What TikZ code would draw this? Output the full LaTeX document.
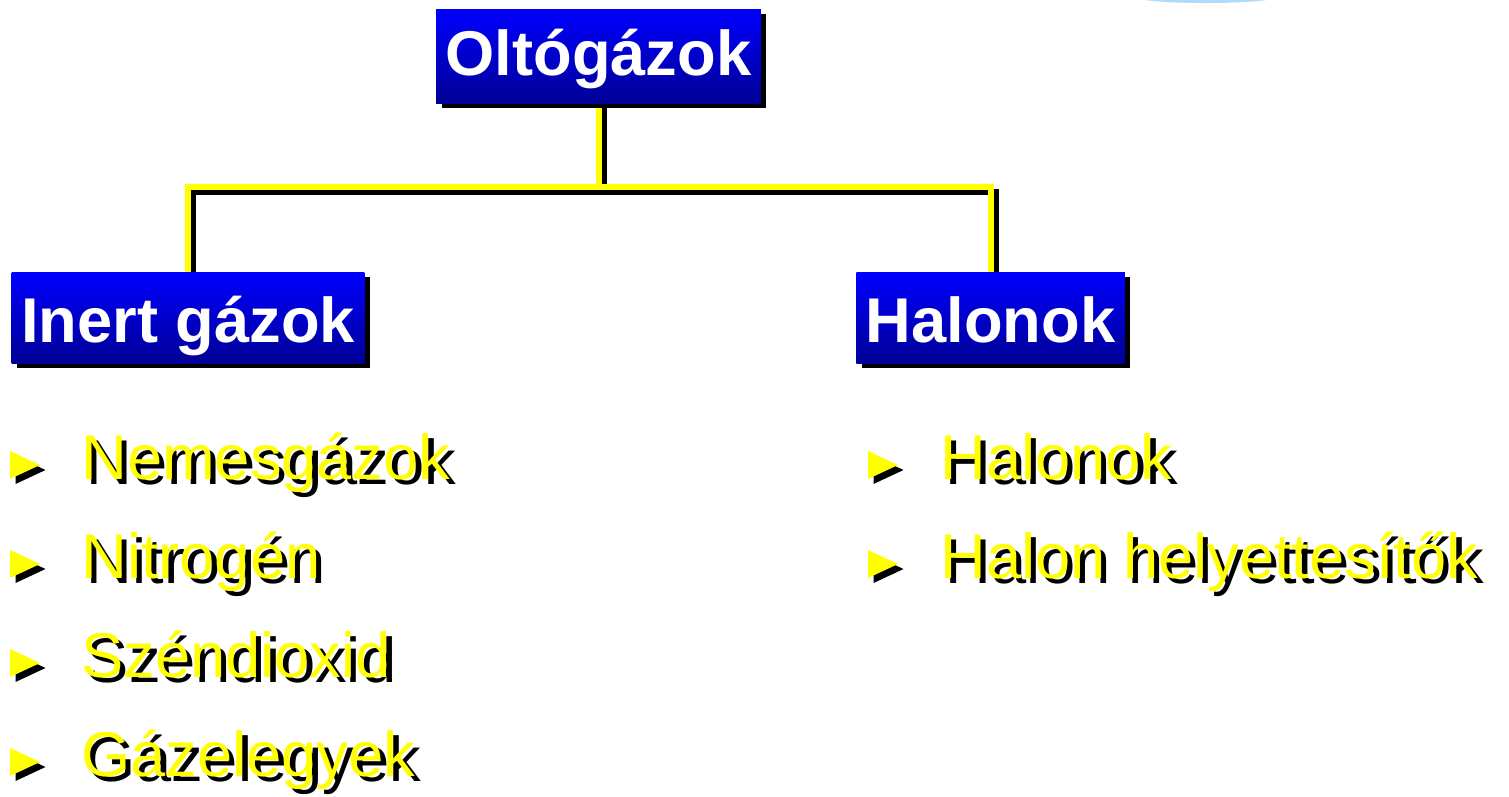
\documentclass[tikz,border=0pt]{standalone}
\usepackage{fontspec}
\setmainfont{Liberation Sans}
\usetikzlibrary{shadows,backgrounds}

\definecolor{boxtop}{RGB}{0,0,255}
\definecolor{boxbottom}{RGB}{0,0,150}
\definecolor{linkyellow}{RGB}{255,255,0}
\definecolor{glowblue}{RGB}{175,218,250}

\begin{document}
\begin{tikzpicture}[x=0.02cm, y=-0.02cm,
    catbox/.style={rectangle, top color=boxtop, bottom color=boxbottom,
      text=white, font=\fontsize{36}{42}\selectfont\bfseries,
      inner xsep=0.19cm, inner ysep=0.2cm, text height=1.2cm, text depth=0.22cm,
      drop shadow={shadow xshift=0.11cm, shadow yshift=-0.1cm, fill=black, opacity=1}},
    link/.style={line width=0.12cm, linkyellow},
    linkshadow/.style={line width=0.12cm, black, transform canvas={xshift=0.11cm, yshift=-0.1cm}},
    itemtext/.style={anchor=base west, inner sep=0pt, text=linkyellow,
      font=\fontsize{36}{42}\selectfont}]

                    \useasboundingbox (0,0) rectangle (1509,796);
                    \fill[glowblue] (1206,-3) ellipse [x radius=70, y radius=6];

                    % the three headings
                    \node[catbox, text height=1.12cm, text depth=0.36cm] (top) at (598.5,56) {Oltógázok};
                    \node[catbox] (inert) at (188,317.5) {Inert gázok};
                    \node[catbox] (halon) at (990.5,317.5) {Halonok};

                    % yellow tree lines with their shadow
                    \coordinate (fork) at (598.5,187);
                    \begin{scope}[on background layer]
                      \draw[linkshadow] (top.south) -- (fork) (inert.north) |- (fork) -| (halon.north);
                      \draw[link] (top.south) -- (fork) (inert.north) |- (fork) -| (halon.north);
                    \end{scope}

                    % left list
                    \foreach \nm/\yb/\txt in {nemes/479/Nemesgázok, nitro/578/Nitrogén,
                        szen/677/Széndioxid, gazel/776/Gázelegyek} {
                      \fill[black] (15.5,\yb+5) -- ++(0,-28) -- ++(30,14) -- cycle;
                      \fill[linkyellow] (10,\yb) -- ++(0,-28) -- ++(30,14) -- cycle;
                      \node[itemtext, text=black] (\nm-sh) at (86.5,\yb+5) {\txt};
                      \node[itemtext] (\nm) at (81,\yb) {\txt};
                    }

                    % right list
                    \foreach \nm/\yb/\txt in {halonok/479/Halonok, helyet/578/Halon helyettesítők} {
                      \fill[black] (873.5,\yb+5) -- ++(0,-28) -- ++(30,14) -- cycle;
                      \fill[linkyellow] (868,\yb) -- ++(0,-28) -- ++(30,14) -- cycle;
                      \node[itemtext, text=black] (\nm-sh) at (945.5,\yb+5) {\txt};
                      \node[itemtext] (\nm) at (940,\yb) {\txt};
                    }

                \end{tikzpicture}
\end{document}
